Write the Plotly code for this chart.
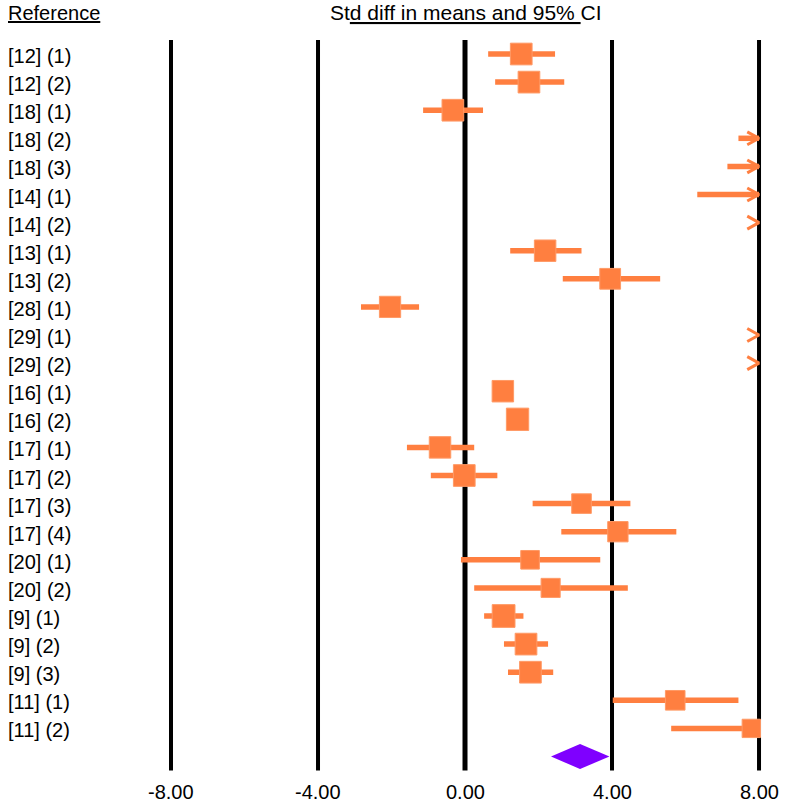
import plotly.graph_objects as go

# study rows, top to bottom
labels = ["[12] (1)", "[12] (2)", "[18] (1)", "[18] (2)", "[18] (3)",
          "[14] (1)", "[14] (2)", "[13] (1)", "[13] (2)", "[28] (1)",
          "[29] (1)", "[29] (2)", "[16] (1)", "[16] (2)", "[17] (1)",
          "[17] (2)", "[17] (3)", "[17] (4)", "[20] (1)", "[20] (2)",
          "[9] (1)", "[9] (2)", "[9] (3)", "[11] (1)", "[11] (2)"]

# std diff in means with 95% CI (values beyond +8 are off the scale)
est = [1.53, 1.74, -0.33, 9.0, 9.2, 10.5, 10.8, 2.18, 3.95, -2.04,
       12.0, 12.3, 1.03, 1.43, -0.68, -0.02, 3.17, 4.16, 1.77, 2.33,
       1.05, 1.66, 1.78, 5.72, 7.79]
lower = [0.63, 0.82, -1.14, 7.44, 7.14, 6.32, 8.6, 1.23, 2.66, -2.83,
         9.5, 9.8, 0.80, 1.20, -1.58, -0.93, 1.84, 2.62, -0.11, 0.25,
         0.52, 1.06, 1.17, 4.02, 5.61]
upper = [2.45, 2.70, 0.49, 10.5, 11.3, 14.7, 13.0, 3.17, 5.31, -1.25,
         14.5, 14.8, 1.26, 1.66, 0.25, 0.88, 4.50, 5.75, 3.68, 4.43,
         1.59, 2.26, 2.40, 7.44, 8.0]
# relative weights (%)
weight = [4.9, 4.9, 4.9, 3.5, 3.5, 3.5, 3.0, 4.8, 4.5, 4.7,
          3.0, 3.0, 4.8, 5.2, 4.8, 4.9, 4.0, 4.3, 3.6, 3.8,
          5.4, 4.9, 4.9, 4.0, 3.5]

# pooled estimate
summary_est = 3.13
summary_lower = 2.34
summary_upper = 3.93

tick_vals = [-8, -4, 0, 4, 8]
tick_text = ["-8.00", "-4.00", "0.00", "4.00", "8.00"]

x_min, x_max = -8, 8
orange = '#ff7f40'
font = "Liberation Sans, Arial, sans-serif"

rows = list(range(len(labels)))

# CI lines, clipped to the scale
ci_x, ci_y = [], []
# chevrons for CIs running off the right end
chev_x, chev_y = [], []
sq_x, sq_y, sq_size = [], [], []
for i in rows:
    lo = max(lower[i], x_min)
    hi = min(upper[i], x_max)
    if lo < hi:
        ci_x += [lo, hi, None]
        ci_y += [i, i, None]
    if upper[i] > x_max:
        chev_x += [x_max - 0.32, x_max, x_max - 0.32, None]
        chev_y += [i - 0.23, i, i + 0.23, None]
    if x_min <= est[i] <= x_max:
        sq_x.append(est[i])
        sq_y.append(i)
        sq_size.append(9.8 * weight[i] ** 0.5)

fig = go.Figure()

fig.add_trace(go.Scatter(x=ci_x, y=ci_y, mode='lines',
                         line=dict(color=orange, width=5.5),
                         hoverinfo='skip'))

fig.add_trace(go.Scatter(x=chev_x, y=chev_y, mode='lines',
                         line=dict(color=orange, width=3),
                         hoverinfo='skip'))

fig.add_trace(go.Scatter(x=sq_x, y=sq_y, mode='markers',
                         marker=dict(symbol='square', size=sq_size,
                                     color=orange, opacity=1,
                                     line=dict(color='#ff9a66', width=1)),
                         hoverinfo='skip'))

# summary diamond
d_row = len(labels)
fig.add_trace(go.Scatter(
    x=[summary_lower, summary_est, summary_upper, summary_est, summary_lower],
    y=[d_row, d_row - 0.445, d_row, d_row + 0.445, d_row],
    mode='lines', fill='toself', fillcolor='#7f00ff',
    line=dict(color='#7f00ff', width=0), hoverinfo='skip'))

# vertical reference lines
for v in tick_vals:
    fig.add_shape(type='line', x0=v, x1=v, y0=-0.5, y1=d_row + 0.5,
                  xref='x', yref='y', layer='below',
                  line=dict(color='black', width=5 if v == 0 else 4))

annotations = []
for i in rows:
    annotations.append(dict(x=6 / 785, xref='paper', y=i, yref='y',
                            text=labels[i], showarrow=False,
                            xanchor='left', yanchor='middle', yshift=-2,
                            font=dict(family=font, size=20, color='black')))

for v, t in zip(tick_vals, tick_text):
    annotations.append(dict(x=v, xref='x', y=d_row + 1.25, yref='y',
                            text=t, showarrow=False,
                            xanchor='center', yanchor='middle',
                            font=dict(family=font, size=20, color='black')))

# column headers
annotations.append(dict(x=6 / 785, xref='paper', y=-1.47, yref='y',
                        text="<u>Reference</u>", showarrow=False,
                        xanchor='left', yanchor='middle',
                        font=dict(family=font, size=20, color='black')))
annotations.append(dict(x=0.03, xref='x', y=-1.47, yref='y',
                        text="St<u>d diff in means and 95% </u>CI",
                        showarrow=False, xanchor='center', yanchor='middle',
                        font=dict(family=font, size=21, color='black')))

fig.update_layout(width=785, height=805,
                  showlegend=False,
                  hovermode=False,
                  annotations=annotations,
                  plot_bgcolor='white',
                  paper_bgcolor='white',
                  margin=dict(b=0, l=0, r=0, t=0),
                  xaxis=dict(range=[-12.653, 8.707], showgrid=False,
                             zeroline=False, showticklabels=False,
                             fixedrange=True),
                  yaxis=dict(range=[26.726, -1.922], showgrid=False,
                             zeroline=False, showticklabels=False,
                             fixedrange=True))

# page body has an 8px default margin; drop it so the figure fills the window
fig.write_html("out.html",
               config={'displayModeBar': False},
               post_script="document.body.style.margin='0px';"
                           "document.body.style.overflow='hidden';")
